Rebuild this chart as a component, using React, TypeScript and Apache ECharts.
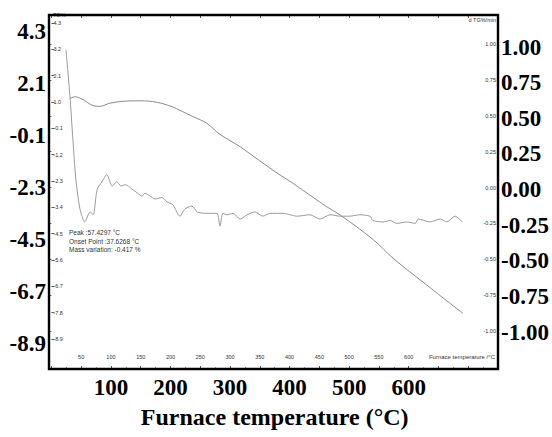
import React, { useEffect, useRef } from "react";
import * as echarts from "echarts";

// ---- data ----
const TG_TEMP = [31, 40, 54, 73, 82, 98, 126, 149, 177, 204, 216, 238, 261, 283, 317, 350, 384, 406, 462, 485, 541, 574, 630, 691];
const TG_VALUE = [1.15, 1.22, 1.08, 0.83, 0.82, 0.95, 1.04, 1.05, 0.99, 0.79, 0.65, 0.39, 0.11, -0.35, -0.87, -1.46, -2.05, -2.4, -3.37, -3.72, -4.76, -5.53, -6.64, -7.83];

const DTG_TEMP = [24.5, 31, 36, 41, 48, 56, 65, 70, 77, 85, 93, 102, 110, 117, 124, 135, 145, 152, 157, 166, 174, 186, 194, 204, 213, 216, 224, 236, 245, 261, 278, 283, 288, 295, 305, 317, 329, 342, 355, 367, 389, 401, 412, 434, 451, 468, 485, 501, 518, 535, 540, 557, 569, 580, 597, 611, 616, 636, 653, 664, 678, 690];
const DTG_VALUE = [0.96, 0.64, 0.34, 0.06, -0.15, -0.24, -0.17, -0.19, -0.01, 0.04, 0.09, 0.01, 0.04, 0.01, 0.02, -0.01, -0.04, -0.06, -0.04, -0.06, -0.08, -0.07, -0.1, -0.12, -0.19, -0.2, -0.15, -0.13, -0.17, -0.18, -0.18, -0.27, -0.18, -0.19, -0.18, -0.22, -0.19, -0.17, -0.2, -0.18, -0.18, -0.19, -0.2, -0.19, -0.22, -0.19, -0.2, -0.2, -0.19, -0.2, -0.23, -0.24, -0.23, -0.25, -0.24, -0.25, -0.22, -0.24, -0.22, -0.24, -0.2, -0.24];

// ---- tick labels ----
const X_OUTER_LABELS = [100, 200, 300, 400, 500, 600];
const X_INNER_LABELS = [50, 100, 150, 200, 250, 300, 350, 400, 450, 500, 550, 600];
const Y_LEFT_OUTER_LABELS = [-8.9, -6.7, -4.5, -2.3, -0.1, 2.1, 4.3];
const Y_LEFT_INNER_LABELS = [-8.9, -7.8, -6.7, -5.6, -4.5, -3.4, -2.3, -1.2, -0.1, 1.0, 2.1, 3.2, 4.3];
const Y_RIGHT_LABELS = [-1.0, -0.75, -0.5, -0.25, 0.0, 0.25, 0.5, 0.75, 1.0];

const X_MAX = 750;
const ANNOTATION = ["Peak :57.4297 °C", "Onset Point :37.6268 °C", "Mass variation: -0.417 %"];

const pick = (arr: number[], digits: number) => (v: number) => {
  const hit = arr.find((a) => Math.abs(a - v) < 1e-6);
  return hit === undefined ? "" : hit.toFixed(digits);
};
const step = (arr: number[]) => +(arr[1] - arr[0]).toFixed(3);

const SMALL = { fontFamily: "Liberation Sans", fontSize: 5.5, color: "#333" };
const BIG = { fontFamily: "Liberation Serif", fontWeight: "bold" as const, fontSize: 23, color: "#000" };

const hiddenX = (gridIndex: number) => ({ type: "value", gridIndex, min: 0, max: X_MAX, show: false });
const hiddenY = (gridIndex: number) => ({ type: "value", gridIndex, min: 0, max: 1, show: false });

const option: any = {
  animation: false,
  backgroundColor: "#fff",
  grid: [
    // 0: TG data + inner left labels
    { left: 51.4, width: 446.6, top: 23, height: 316 },
    // 1: DTG data + inner right labels
    { left: 51.4, width: 446.6, top: 44, height: 287 },
    // 2: outer left labels
    { left: 49, width: 449, top: 31, height: 312 },
    // 3: x axes
    { left: 51.4, width: 446.6, top: 15, height: 354 },
    // 4: outer right labels
    { left: 51.4, width: 446.6, top: 47, height: 285 },
  ],
  xAxis: [
    hiddenX(0),
    hiddenX(1),
    hiddenX(2),
    {
      type: "value",
      gridIndex: 3,
      position: "bottom",
      min: 0,
      max: X_MAX,
      interval: step(X_OUTER_LABELS),
      axisLine: { show: false },
      axisTick: { show: false },
      splitLine: { show: false },
      axisLabel: { ...BIG, margin: 7, formatter: pick(X_OUTER_LABELS, 0) },
      name: "Furnace temperature (°C)",
      nameLocation: "middle",
      nameGap: 36,
      nameTextStyle: { ...BIG, fontSize: 24 },
    },
    {
      type: "value",
      gridIndex: 3,
      position: "bottom",
      min: 0,
      max: X_MAX,
      interval: step(X_INNER_LABELS),
      axisLine: { show: false },
      axisTick: { show: true, inside: true, length: 3, lineStyle: { color: "#333", width: 0.8 } },
      minorTick: { show: true, splitNumber: 2, length: 2, lineStyle: { color: "#555", width: 0.6 } },
      splitLine: { show: false },
      axisLabel: { ...SMALL, inside: true, margin: 9, formatter: pick(X_INNER_LABELS, 0) },
    },
    {
      type: "value",
      gridIndex: 3,
      position: "top",
      min: 0,
      max: X_MAX,
      interval: step(X_INNER_LABELS),
      axisLine: { show: false },
      axisTick: { show: true, inside: true, length: 3, lineStyle: { color: "#333", width: 0.8 } },
      splitLine: { show: false },
      axisLabel: { show: false },
    },
    hiddenX(4),
  ],
  yAxis: [
    {
      type: "value",
      gridIndex: 0,
      position: "left",
      min: Y_LEFT_INNER_LABELS[0],
      max: Y_LEFT_INNER_LABELS[Y_LEFT_INNER_LABELS.length - 1],
      interval: step(Y_LEFT_INNER_LABELS),
      axisLine: { show: false },
      axisTick: { show: true, inside: true, length: 3, lineStyle: { color: "#333", width: 0.8 } },
      splitLine: { show: false },
      axisLabel: { ...SMALL, inside: true, margin: 2, formatter: pick(Y_LEFT_INNER_LABELS, 1) },
    },
    {
      type: "value",
      gridIndex: 1,
      position: "right",
      min: Y_RIGHT_LABELS[0],
      max: Y_RIGHT_LABELS[Y_RIGHT_LABELS.length - 1],
      interval: step(Y_RIGHT_LABELS),
      axisLine: { show: false },
      axisTick: { show: true, inside: true, length: 3, lineStyle: { color: "#333", width: 0.8 } },
      splitLine: { show: false },
      axisLabel: { ...SMALL, inside: true, margin: 2, formatter: pick(Y_RIGHT_LABELS, 2) },
    },
    {
      type: "value",
      gridIndex: 2,
      position: "left",
      min: Y_LEFT_OUTER_LABELS[0],
      max: Y_LEFT_OUTER_LABELS[Y_LEFT_OUTER_LABELS.length - 1],
      interval: step(Y_LEFT_OUTER_LABELS),
      axisLine: { show: false },
      axisTick: { show: false },
      splitLine: { show: false },
      axisLabel: { ...BIG, margin: 3, formatter: pick(Y_LEFT_OUTER_LABELS, 1) },
    },
    hiddenY(3),
    {
      type: "value",
      gridIndex: 4,
      position: "right",
      min: Y_RIGHT_LABELS[0],
      max: Y_RIGHT_LABELS[Y_RIGHT_LABELS.length - 1],
      interval: step(Y_RIGHT_LABELS),
      axisLine: { show: false },
      axisTick: { show: false },
      splitLine: { show: false },
      axisLabel: { ...BIG, margin: 4, formatter: pick(Y_RIGHT_LABELS, 2) },
    },
  ],
  series: [
    {
      name: "TG",
      type: "line",
      xAxisIndex: 0,
      yAxisIndex: 0,
      data: TG_TEMP.map((t, i) => [t, TG_VALUE[i]]),
      symbol: "none",
      smooth: 0.35,
      lineStyle: { color: "#8a8a8a", width: 1 },
    },
    {
      name: "DTG",
      type: "line",
      xAxisIndex: 1,
      yAxisIndex: 1,
      data: DTG_TEMP.map((t, i) => [t, DTG_VALUE[i]]),
      symbol: "none",
      smooth: 0.25,
      lineStyle: { color: "#9a9a9a", width: 1 },
    },
  ],
  graphic: [
    {
      type: "rect",
      z: 100,
      shape: { x: 49, y: 15, width: 449, height: 354 },
      style: { fill: "none", stroke: "#000", lineWidth: 2.4 },
    },
    { type: "text", x: 53, y: 12, style: { text: "TG%", font: "5.5px 'Liberation Sans'", fill: "#333" } },
    { type: "text", x: 496, y: 17, style: { text: "d TG%/min", font: "5.5px 'Liberation Sans'", fill: "#333", align: "right" } },
    { type: "text", x: 495, y: 354, style: { text: "Furnace temperature /°C", font: "6px 'Liberation Sans'", fill: "#333", align: "right" } },
    ...ANNOTATION.map((t, i) => ({
      type: "text",
      x: 69,
      y: 229 + i * 8.5,
      style: { text: t, font: "6.5px 'Liberation Sans'", fill: "#333" },
    })),
  ],
};

export default function App() {
  const ref = useRef<HTMLDivElement>(null);
  useEffect(() => {
    const chart = echarts.init(ref.current!, null, { renderer: "svg" });
    chart.setOption(option);
    return () => chart.dispose();
  }, []);
  return (
    <div
      ref={ref}
      style={{ position: "absolute", left: 0, top: 0, width: 552, height: 437, background: "#fff" }}
    />
  );
}
